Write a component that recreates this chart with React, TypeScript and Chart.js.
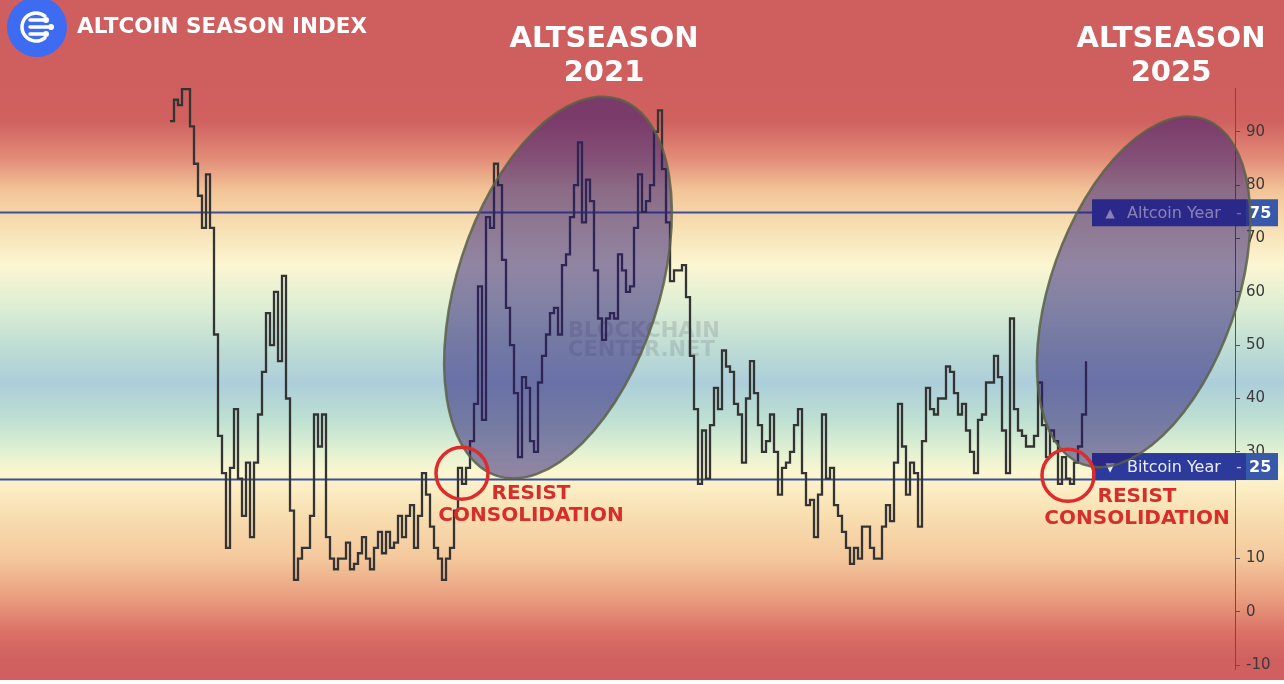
import { useEffect, useRef } from 'react'
import { Chart, registerables } from 'chart.js'

Chart.register(...registerables)

// Altcoin Season Index, one point per ~9 days (2019 -> early 2025)
const altIndex = [
  92, 96, 95, 98, 98, 91, 84, 78, 72, 82,
  72, 52, 33, 26, 12, 27, 38, 25, 18, 28,
  14, 28, 37, 45, 56, 50, 60, 47, 63, 40,
  19, 6, 10, 12, 12, 18, 37, 31, 37, 14,
  10, 8, 10, 10, 13, 8, 9, 11, 14, 10,
  8, 12, 15, 11, 15, 12, 13, 18, 14, 18,
  20, 12, 18, 26, 22, 16, 12, 10, 6, 10,
  12, 19, 27, 24, 27, 32, 39, 61, 36, 74,
  72, 84, 80, 66, 57, 50, 41, 29, 44, 42,
  32, 30, 43, 48, 52, 56, 57, 52, 65, 67,
  74, 80, 88, 73, 81, 77, 64, 55, 51, 55,
  56, 55, 67, 64, 60, 61, 72, 82, 75, 77,
  80, 90, 94, 83, 73, 62, 64, 64, 65, 59,
  48, 38, 24, 34, 25, 35, 42, 38, 49, 46,
  45, 39, 37, 28, 40, 47, 41, 35, 30, 32,
  37, 30, 22, 27, 28, 30, 35, 38, 26, 20,
  21, 14, 22, 37, 25, 27, 20, 18, 15, 12,
  9, 12, 10, 16, 16, 12, 10, 10, 16, 20,
  17, 28, 39, 31, 22, 28, 26, 16, 32, 42,
  38, 37, 40, 40, 46, 45, 41, 37, 39, 34,
  30, 26, 36, 37, 43, 43, 48, 44, 34, 26,
  55, 38, 34, 33, 31, 31, 33, 43, 35, 29,
  34, 32, 24, 29, 25, 24, 28, 31, 37, 47,
]

const yTicks = [-10, 0, 10, 30, 40, 50, 60, 70, 80, 90]

const thresholdValues = [75, 25]
const thresholdNames = ['Altcoin Year', 'Bitcoin Year']
const thresholdArrows = ['▲', '▼']

// season ellipses: centre as (point index, index value)
const seasonYears = ['2021', '2025']
const seasonCentreIdx = [97, 243.4]
const seasonCentreVal = [60.8, 60]
const seasonTitleIdx = [108.5, 250.25]

// consolidation circles just above the Bitcoin Year line
const consolidationIdx = [73, 224.5]
const consolidationVal = [26, 25.6]

// background colour bands by index value
const bandValues = [100, 92, 85, 79, 73, 65, 57, 50, 43, 36, 30, 26, 18, 10, 3, -4, -9]
const bandColors = [
  'rgb(207,94,94)', 'rgb(208,97,95)', 'rgb(226,140,120)', 'rgb(242,196,152)',
  'rgb(247,220,175)', 'rgb(252,246,210)', 'rgb(220,238,212)', 'rgb(192,222,212)',
  'rgb(172,206,218)', 'rgb(190,224,210)', 'rgb(226,241,210)', 'rgb(253,246,208)',
  'rgb(248,222,176)', 'rgb(244,200,156)', 'rgb(234,160,128)', 'rgb(218,112,102)',
  'rgb(208,96,95)',
]

const FONT = '"DejaVu Sans", sans-serif'

const overlayPlugin = {
  id: 'altOverlay',
  beforeDraw(chart: any) {
    const { ctx, width, height } = chart
    const y = chart.scales.y
    const h = height - 4
    ctx.save()
    ctx.fillStyle = '#fff'
    ctx.fillRect(0, 0, width, height)
    const g = ctx.createLinearGradient(0, 0, 0, h)
    bandValues.forEach((v, i) => {
      const f = Math.min(1, Math.max(0, y.getPixelForValue(v) / h))
      g.addColorStop(f, bandColors[i])
    })
    ctx.fillStyle = g
    ctx.fillRect(0, 0, width, h)
    ctx.restore()
  },
  beforeDatasetsDraw(chart: any) {
    const { ctx, chartArea } = chart
    const y = chart.scales.y
    ctx.save()
    // watermark
    ctx.fillStyle = 'rgba(105,105,125,0.22)'
    ctx.font = `bold 21px ${FONT}`
    ctx.textAlign = 'left'
    ctx.textBaseline = 'middle'
    ctx.fillText('BLOCKCHAIN', chartArea.left + 568, 332)
    ctx.fillText('CENTER.NET', chartArea.left + 568, 351)
    // threshold lines
    ctx.strokeStyle = 'rgb(58,80,156)'
    ctx.lineWidth = 1.8
    thresholdValues.forEach((v) => {
      const py = Math.round(y.getPixelForValue(v)) + 0.5
      ctx.beginPath()
      ctx.moveTo(chartArea.left, py)
      ctx.lineTo(chartArea.right, py)
      ctx.stroke()
    })
    ctx.restore()
  },
  afterDatasetsDraw(chart: any) {
    const { ctx, chartArea } = chart
    const x = chart.scales.x
    const y = chart.scales.y
    const right = chartArea.right
    ctx.save()

    // threshold tags on the right axis
    const tagShift = [1, -12]
    thresholdValues.forEach((v, i) => {
      const cy = y.getPixelForValue(v) + tagShift[i]
      const top = cy - 13.5
      ctx.fillStyle = 'rgb(44,58,156)'
      ctx.fillRect(right - 143, top, 154, 27)
      ctx.fillStyle = 'rgb(56,88,170)'
      ctx.fillRect(right + 11, top, 32, 27)
      ctx.textBaseline = 'middle'
      ctx.textAlign = 'center'
      ctx.fillStyle = '#ececf4'
      ctx.font = `12px ${FONT}`
      ctx.fillText(thresholdArrows[i], right - 125, cy + 1)
      ctx.textAlign = 'left'
      ctx.font = `16px ${FONT}`
      ctx.fillText(thresholdNames[i], right - 108, cy + 1)
      ctx.fillStyle = '#c8c8d8'
      ctx.fillText('-', right + 1, cy + 1)
      ctx.fillStyle = '#ffffff'
      ctx.font = `bold 16px ${FONT}`
      ctx.fillText(String(v), right + 14, cy + 1)
    })

    // season ellipses
    const radiusA = [198, 183]
    const radiusB = [101, 93]
    const tilt = [-72, -70.6]
    seasonYears.forEach((_, i) => {
      const cx = x.getPixelForValue(seasonCentreIdx[i])
      const cy = y.getPixelForValue(seasonCentreVal[i])
      ctx.beginPath()
      ctx.ellipse(cx, cy, radiusA[i], radiusB[i], (tilt[i] * Math.PI) / 180, 0, Math.PI * 2)
      ctx.fillStyle = 'rgba(42,24,117,0.51)'
      ctx.fill()
      ctx.strokeStyle = 'rgba(92,98,70,0.85)'
      ctx.lineWidth = 2.5
      ctx.stroke()
    })

    // consolidation circles + labels
    consolidationIdx.forEach((idx, i) => {
      const cx = x.getPixelForValue(idx)
      const cy = y.getPixelForValue(consolidationVal[i])
      ctx.beginPath()
      ctx.arc(cx, cy, 26, 0, Math.PI * 2)
      ctx.strokeStyle = 'rgb(222,44,44)'
      ctx.lineWidth = 3.5
      ctx.stroke()
      ctx.fillStyle = 'rgb(214,46,42)'
      ctx.font = `bold 20px ${FONT}`
      ctx.textAlign = 'center'
      ctx.textBaseline = 'middle'
      ctx.fillText('RESIST', cx + 69, cy + 21)
      ctx.fillText('CONSOLIDATION', cx + 69, cy + 43)
    })

    // season titles
    ctx.fillStyle = '#ffffff'
    ctx.font = `bold 29px ${FONT}`
    ctx.textAlign = 'center'
    ctx.textBaseline = 'middle'
    seasonYears.forEach((yr, i) => {
      const tx = x.getPixelForValue(seasonTitleIdx[i])
      ctx.fillText('ALTSEASON', tx, 39)
      ctx.fillText(yr, tx, 73)
    })

    // header: logo + title
    ctx.beginPath()
    ctx.arc(37, 27, 30, 0, Math.PI * 2)
    ctx.fillStyle = 'rgb(61,108,242)'
    ctx.fill()
    ctx.strokeStyle = '#ffffff'
    ctx.lineWidth = 3.5
    ctx.lineCap = 'round'
    ctx.beginPath()
    ctx.arc(36, 27, 14, Math.PI * 0.28, Math.PI * 1.72)
    ctx.stroke()
    const rows = [[20, 46], [27, 51], [34, 46]]
    rows.forEach(([ry, ex]) => {
      ctx.beginPath()
      ctx.moveTo(30, ry)
      ctx.lineTo(ex - 3, ry)
      ctx.stroke()
      ctx.beginPath()
      ctx.arc(ex, ry, 3, 0, Math.PI * 2)
      ctx.fillStyle = '#ffffff'
      ctx.fill()
    })
    ctx.fillStyle = '#ffffff'
    ctx.font = `bold 21.5px ${FONT}`
    ctx.textAlign = 'left'
    ctx.textBaseline = 'middle'
    ctx.fillText('ALTCOIN SEASON INDEX', 77, 27)

    ctx.restore()
  },
}

export default function App() {
  const chartRef = useRef<HTMLCanvasElement>(null)
  const chartInstance = useRef<Chart | null>(null)

  useEffect(() => {
    document.body.style.margin = '0'
    document.body.style.overflow = 'hidden'
    if (!chartRef.current) return
    if (chartInstance.current) chartInstance.current.destroy()

    const ctx = chartRef.current.getContext('2d')
    if (!ctx) return

    const config = {
      type: 'line',
      data: {
        datasets: [
          {
            label: 'Altcoin Season Index',
            data: altIndex.map((v, i) => ({ x: i, y: v })),
            borderColor: '#343434',
            borderWidth: 2.3,
            pointRadius: 0,
            stepped: true,
            fill: false,
          },
        ],
      },
      options: {
        responsive: false,
        animation: false,
        events: [],
        layout: { padding: { top: 88, bottom: 14, left: 0, right: 0 } },
        plugins: {
          legend: { display: false },
          tooltip: { enabled: false },
        },
        scales: {
          x: { type: 'linear', min: -42.5, max: 266.25, display: false },
          y: {
            position: 'right',
            min: -10.7,
            max: 98.2,
            afterBuildTicks: (axis: any) => {
              axis.ticks = yTicks.map((value) => ({ value }))
            },
            afterFit: (axis: any) => {
              axis.width = 49
            },
            grid: { drawOnChartArea: false, drawTicks: true, tickLength: 5, color: '#555' },
            border: { display: true, color: '#555', width: 1 },
            ticks: {
              color: '#3a3a3a',
              font: { family: 'DejaVu Sans', size: 15 },
              padding: 6,
              callback: (v: any) => String(v),
            },
          },
        },
      },
      plugins: [overlayPlugin],
    }

    chartInstance.current = new Chart(ctx, config as any)

    return () => {
      if (chartInstance.current) {
        chartInstance.current.destroy()
        chartInstance.current = null
      }
    }
  }, [])

  return (
    <div style={{ width: 1284, height: 684 }}>
      <canvas ref={chartRef} width={1284} height={684} />
    </div>
  )
}
